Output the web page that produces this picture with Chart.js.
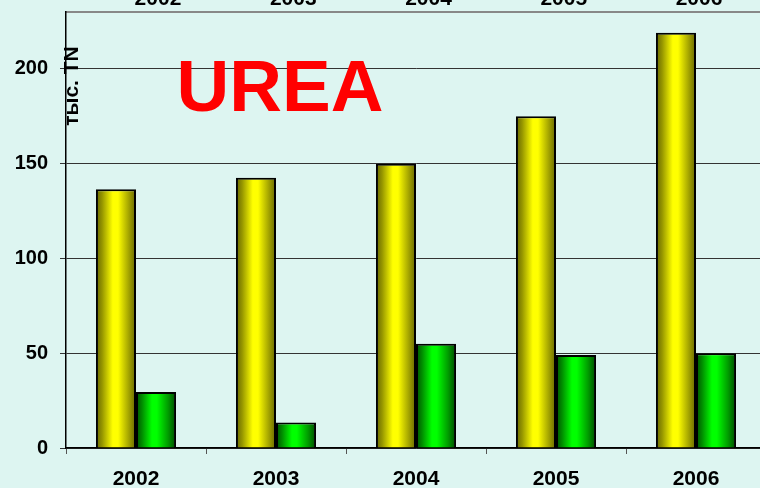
<!DOCTYPE html>
<html>
<head>
<meta charset="utf-8">
<script src="https://cdn.jsdelivr.net/npm/chart.js@4/dist/chart.umd.min.js"></script>
<style>
  html, body { margin: 0; padding: 0; overflow: hidden; background: #ddf5f1; }
  #wrap { position: absolute; left: 0; top: -20px; }
</style>
</head>
<body>
<div id="wrap"><canvas id="urea" width="780" height="508"></canvas></div>
<script>
const years = ['2002', '2003', '2004', '2005', '2006'];
const produced = [136.5, 142.5, 150, 175, 219];
const exported = [29.5, 13.5, 55, 49, 50];
const yTicks = [0, 50, 100, 150, 200];
const topYears = ['2002', '2003', '2004', '2005', '2006'];

Chart.defaults.font.family = '"Liberation Sans", Arial, sans-serif';
Chart.defaults.color = '#000';

const CAT_PCT = 0.572;

// horizontal "cylinder" shading for each bar, placed from the x scale
function shade(stops) {
  return context => {
    const chart = context.chart;
    const xs = chart.scales.x;
    if (!chart.chartArea || !xs || context.dataIndex === undefined) return stops[2][1];
    const center = xs.getPixelForValue(context.dataIndex);
    const catW = xs.width / years.length;
    const barW = catW * CAT_PCT / 2;
    const left = context.datasetIndex === 0 ? center - barW : center;
    const g = chart.ctx.createLinearGradient(left, 0, left + barW, 0);
    stops.forEach(s => g.addColorStop(s[0], s[1]));
    return g;
  };
}

const yellowStops = [[0, '#666600'], [0.15, '#949400'], [0.42, '#ffff00'], [0.55, '#ffff00'], [0.8, '#aaaa00'], [1, '#666600']];
const greenStops = [[0, '#005000'], [0.15, '#008c00'], [0.4, '#00ff00'], [0.52, '#00ff00'], [0.8, '#009c00'], [1, '#004a00']];

const labels = {
  id: 'labels',
  afterDraw(chart) {
    const ctx = chart.ctx;
    const top = chart.scales.xTop;
    ctx.save();
    // leftover year labels of the top axis, mostly cut off by the window
    ctx.fillStyle = '#000';
    ctx.font = 'bold 21px "Liberation Sans", Arial, sans-serif';
    ctx.textAlign = 'center';
    ctx.textBaseline = 'alphabetic';
    topYears.forEach((t, i) => ctx.fillText(t, top.getPixelForValue(i), 25));

    ctx.fillStyle = '#ff0000';
    ctx.font = 'bold 73px "Liberation Sans", Arial, sans-serif';
    ctx.fillText('UREA', 280, 131);

    ctx.fillStyle = '#000';
    ctx.font = 'bold 21px "Liberation Sans", Arial, sans-serif';
    ctx.translate(78, 106);
    ctx.rotate(-Math.PI / 2);
    ctx.fillText('тыс. TN', 0, 0);
    ctx.restore();
  }
};

new Chart(document.getElementById('urea'), {
  type: 'bar',
  data: {
    labels: years,
    datasets: [{
      data: produced,
      backgroundColor: shade(yellowStops),
      borderColor: '#000',
      borderWidth: 2
    }, {
      data: exported,
      backgroundColor: shade(greenStops),
      borderColor: '#000',
      borderWidth: 2
    }]
  },
  options: {
    responsive: false,
    animation: false,
    layout: { padding: { left: 0, right: 14, top: 0, bottom: 0 } },
    datasets: { bar: { categoryPercentage: CAT_PCT, barPercentage: 1 } },
    plugins: { legend: { display: false }, tooltip: { enabled: false } },
    scales: {
      x: {
        position: 'bottom',
        afterFit: s => { s.height = 40; },
        grid: { display: true, drawOnChartArea: false, drawTicks: true, tickLength: 6, color: '#555', offset: true },
        border: { display: true, color: '#000', width: 1.5 },
        ticks: { font: { size: 21, weight: 'bold' }, padding: 13, maxRotation: 0 }
      },
      xTop: {
        type: 'linear',
        position: 'top',
        offset: false,
        bounds: 'ticks',
        min: -0.68,
        max: 4.495,
        afterFit: s => { s.height = 32; },
        grid: { display: false, offset: false },
        border: { display: true, color: '#888', width: 2 },
        ticks: { display: false }
      },
      y: {
        min: 0,
        max: 230,
        afterFit: s => { s.width = 66; },
        afterBuildTicks: s => { s.ticks = yTicks.map(v => ({ value: v })); },
        grid: { color: '#333', lineWidth: 1, drawTicks: true, tickLength: 6 },
        border: { display: true, color: '#000', width: 1.5 },
        ticks: { font: { size: 20, weight: 'bold' }, padding: 12 }
      }
    }
  },
  plugins: [labels]
});
</script>
</body>
</html>
